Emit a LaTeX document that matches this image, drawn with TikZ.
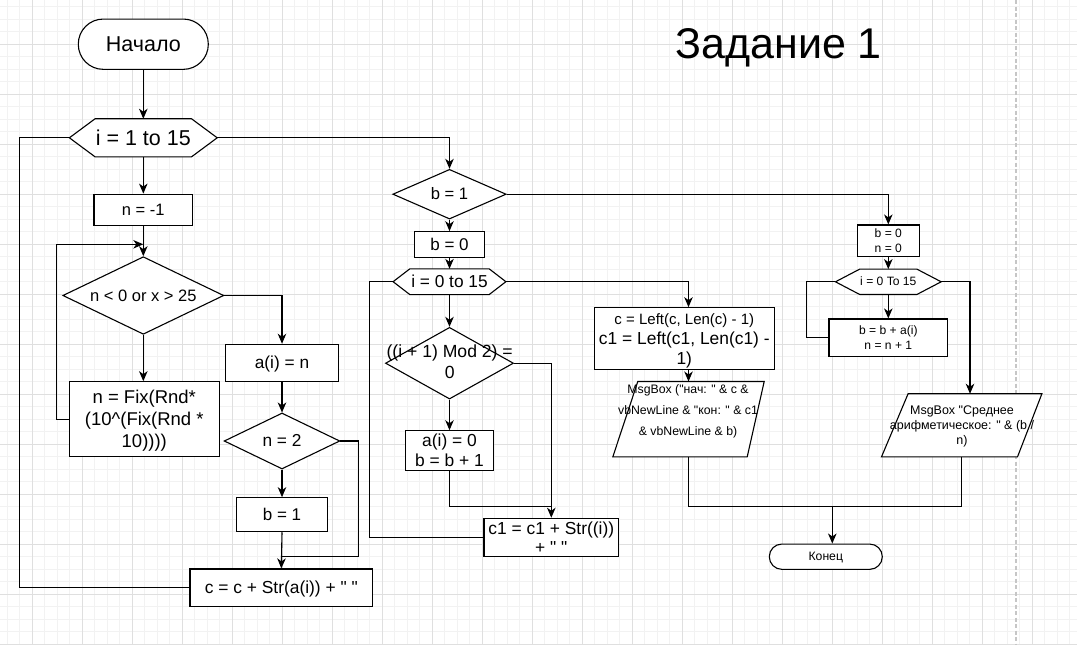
\documentclass[tikz,border=0pt]{standalone}
\usepackage{fontspec}
\setmainfont{Liberation Sans}[Ligatures=TeXOff]
\usetikzlibrary{shapes.geometric,arrows.meta}
\lineskiplimit=-100pt
% line box of the font: ascent 0.905em, descent 0.212em
\newcommand{\mystrut}{\rule[-0.212em]{0pt}{1.117em}}
% hexagon (loop header) outline drawn on a frame node
\newcommand{\hexpath}[2]{%
  \draw[ln, fill=white] (#1.west) -- ([xshift=#2]#1.north west) -- ([xshift=-#2]#1.north east)
    -- (#1.east) -- ([xshift=-#2]#1.south east) -- ([xshift=#2]#1.south west) -- cycle;}
\tikzset{
  fs/.style 2 args={font=\fontsize{#1}{#2}\selectfont},
  ln/.style={draw=black, line width=1.1pt},
  arr/.style={ln, -{Stealth[length=10pt,width=8.5pt,inset=3pt]}},
  box/.style={rectangle, ln, fill=white, inner sep=0pt, align=center},
  dia/.style={diamond, ln, fill=white, inner sep=0pt},
  frame/.style={rectangle, draw=none, inner sep=0pt},
  txt/.style={inner sep=0pt, align=center},
  mingrid/.style={draw=gray!10, line width=0.9pt},
  majgrid/.style={draw=gray!25, line width=0.9pt},
}
\begin{document}
\begin{tikzpicture}[x=1pt,y=-1pt]
\useasboundingbox (0,0) rectangle (1077,645);
\fill[white] (0,0) rectangle (1077,645);

% background grid
\foreach \i in {-2,...,83} \draw[mingrid] ({32.3+12.5*\i},0) -- ++(0,645);
\foreach \j in {-3,...,48} \draw[mingrid] (0,{44.3+12.5*\j}) -- ++(1077,0);
\foreach \i in {0,...,20} \draw[majgrid] ({32.3+50*\i},0) -- ++(0,645);
\foreach \j in {0,...,12} \draw[majgrid] (0,{44.3+50*\j}) -- ++(1077,0);
\draw[gray!45, line width=1.5pt, dash pattern=on 4pt off 2.5pt] (1016,0) -- (1016,645);

% title
\node[txt, fs={43}{50}] (title) at (778.7,44) {\mystrut Задание 1};

% ---------- column 1: filling the array ----------
\node[box, rounded corners=25pt, minimum width=130pt, minimum height=50.3pt, fs={21.5}{25}] (start) at (143.3,44.2) {\mystrut Начало};

\node[frame, minimum width=147.4pt, minimum height=37.7pt] (h1) at (143.3,137.8) {};
\hexpath{h1}{25.7pt}
\node[txt, fs={21.5}{25}] (h1t) at (h1) {\mystrut i = 1 to 15};

\node[box, minimum width=98.7pt, minimum height=31.7pt, fs={16.5}{19}] (n1) at (143.3,210) {\mystrut n = -1};

\node[dia, minimum width=161pt, minimum height=77.6pt] (d1) at (143.3,295.5) {};
\node[txt, fs={16.5}{19}] (d1t) at (d1) {\mystrut n < 0 or x > 25};

\node[box, minimum width=150pt, minimum height=75pt, fs={18.5}{22.3}] (fix) at (144.3,419.2)
  {\mystrut n = Fix(Rnd*\\\mystrut (10\textasciicircum(Fix(Rnd *\\\mystrut 10))))};

\node[box, minimum width=112.6pt, minimum height=37.4pt, fs={17.3}{20}] (ai) at (282,363) {\mystrut a(i) = n};

\node[dia, minimum width=115.7pt, minimum height=56pt] (d2) at (282,441) {};
\node[txt, fs={17.3}{20}] (d2t) at (d2) {\mystrut n = 2};

\node[box, minimum width=90.4pt, minimum height=34pt, fs={17}{20}] (b1) at (282,514.7) {\mystrut b = 1};

\node[box, minimum width=182.7pt, minimum height=37.7pt, fs={17.4}{20}] (cbox) at (281.3,587.8) {\mystrut c = c + Str(a(i)) + " "};

% ---------- column 2: second pass ----------
\node[dia, minimum width=113.4pt, minimum height=49.7pt] (d3) at (449.5,194.2) {};
\node[txt, fs={16.6}{19}] (d3t) at (d3) {\mystrut b = 1};

\node[box, minimum width=69.3pt, minimum height=25.6pt, fs={17}{20}] (b0) at (449.5,244.5) {\mystrut b = 0};

\node[frame, minimum width=112.4pt, minimum height=25.3pt] (h2) at (449.5,281.7) {};
\hexpath{h2}{16.7pt}
\node[txt, fs={17.3}{20}] (h2t) at (h2) {\mystrut i = 0 to 15};

\node[dia, minimum width=128pt, minimum height=71.7pt] (d4) at (449.5,363.2) {};
\node[txt, fs={17.6}{21}] (d4t) at (449.7,362.2) {\mystrut ((i + 1) Mod 2) =\\\mystrut 0};

\node[box, minimum width=88pt, minimum height=37.6pt, fs={17.4}{20}] (a0) at (449.5,450.5) {\mystrut a(i) = 0\\\mystrut b = b + 1};

\node[box, minimum width=134.7pt, minimum height=38.4pt, fs={17.4}{19}] (c1box) at (551.3,537.5) {\mystrut c1 = c1 + Str((i))\\\mystrut + " "};

\node[box, minimum width=180pt, minimum height=61.6pt, fs={17.4}{20.3}] (cl) at (684.3,338.5)
  {\mystrut{\fontsize{15}{18}\selectfont c = Left(c, Len(c) - 1)}\\\mystrut c1 = Left(c1, Len(c1) -\\\mystrut 1)};

\node[frame, minimum width=151pt, minimum height=75pt] (pm1) at (688.5,419.2) {};
\draw[ln, fill=white] ([xshift=25pt]pm1.north west) -- (pm1.north east) -- ([xshift=-17pt]pm1.south east) -- (pm1.south west) -- cycle;
\node[txt, fs={12.3}{20.8}] (pm1t) at (688,410)
  {\mystrut MsgBox ("нач: " \& c \&\\\mystrut vbNewLine \& "кон: " \& c1\\\mystrut \& vbNewLine \& b)};

\node[box, rounded corners=12.6pt, minimum width=113pt, minimum height=25.3pt, fs={12.2}{15}] (stop) at (825.8,556.7) {\mystrut Конец};

% ---------- column 3: average ----------
\node[box, minimum width=62pt, minimum height=31.7pt, fs={12.1}{15}] (b0n0) at (888.3,240.8) {\mystrut b = 0\\\mystrut n = 0};

\node[frame, minimum width=105.3pt, minimum height=25pt] (h3) at (888.3,281.8) {};
\hexpath{h3}{24.3pt}
\node[txt, fs={12.1}{15}] (h3t) at (h3) {\mystrut i = 0 To 15};

\node[box, minimum width=118.7pt, minimum height=37.7pt, fs={12.1}{15}] (bb) at (888.3,337.8) {\mystrut b = b + a(i)\\\mystrut n = n + 1};

\node[frame, minimum width=160pt, minimum height=62.7pt] (pm2) at (961.7,425.3) {};
\draw[ln, fill=white] ([xshift=26.6pt]pm2.north west) -- (pm2.north east) -- ([xshift=-24.4pt]pm2.south east) -- (pm2.south west) -- cycle;
\node[txt, fs={12.5}{15}] (pm2t) at (962,425)
  {\mystrut MsgBox "Среднее\\\mystrut арифметическое: " \& (b /\\\mystrut n)};

% ---------- connectors ----------
\draw[arr] (start.south) -- (h1.north);
\draw[arr] (h1.south) -- (n1.north);
\draw[arr] (n1.south) -- (d1.north);
\draw[arr] (d1.south) -- (d1.south |- fix.north);
\coordinate (jl) at (143.3,244.3);
\draw[arr] (fix.west) -- ++(-12,0) |- (jl);
\draw[arr] (d1.east) -| (ai.north);
\draw[arr] (ai.south) -- (d2.north);
\draw[arr] (d2.south) -- (b1.north);
\draw[arr] (b1.south) -- (cbox.north);
\coordinate (jc) at (282,556.7);
\draw[ln] (d2.east) -- ++(18.3,0) |- (jc);
\draw[ln] (cbox.west) -- ++(-170,0) |- (h1.west);

\draw[arr] (h1.east) -| (d3.north);
\draw[arr] (d3.south) -- (b0.north);
\draw[arr] (b0.south) -- (h2.north);
\draw[arr] (h2.south) -- (d4.north);
\draw[arr] (d4.south) -- (a0.north);
\draw[arr] (d4.east) -| (c1box.north);
\coordinate (ja) at (551.3,506.7);
\draw[ln] (a0.south) |- (ja);
\draw[ln] (c1box.west) -- ++(-114,0) |- (h2.west);
\draw[arr] (h2.east) -| (pm1.north |- cl.north);
\draw[arr] (cl.south -| pm1.north) -- (pm1.north);
\coordinate (jb) at (832.3,506.7);
\draw[ln] (pm1.south) |- (jb) -- (jb -| pm2.south) -- (pm2.south);
\draw[arr] (jb) -- (jb |- stop.north);

\draw[arr] (d3.east) -| (b0n0.north);
\draw[arr] (b0n0.south) -- (h3.north);
\draw[arr] (h3.south) -- (bb.north);
\draw[ln] (bb.west) -- ++(-21.7,0) |- (h3.west);
\draw[arr] (h3.east) -| ([xshift=8.3pt]pm2.north);
\end{tikzpicture}
\end{document}
